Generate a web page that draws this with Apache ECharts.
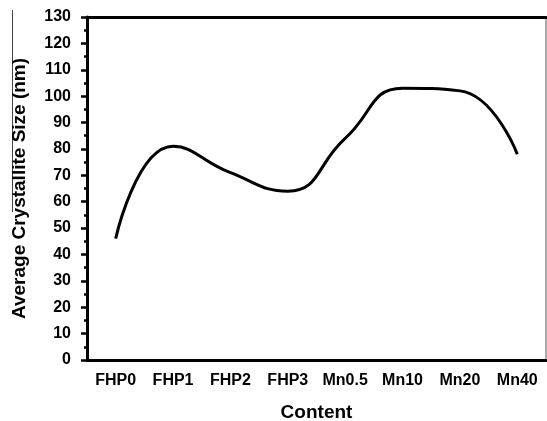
<!DOCTYPE html>
<html>
<head>
<meta charset="utf-8">
<script src="https://cdn.jsdelivr.net/npm/echarts@6/dist/echarts.min.js"></script>
<style>
html,body{margin:0;padding:0;background:#fff;}
#c{width:547px;height:421px;}
</style>
</head>
<body>
<div id="c"></div>
<script>
var categories = ['FHP0','FHP1','FHP2','FHP3','Mn0.5','Mn10','Mn20','Mn40'];
var sizeValues = [46, 81, 71, 64, 84, 103, 102, 78];
var yTicks = {min: 0, max: 130, interval: 10};

var chart = echarts.init(document.getElementById('c'), null, {renderer: 'canvas'});
var font = 'Arial, "Liberation Sans", sans-serif';
chart.setOption({
  animation: false,
  backgroundColor: '#fff',
  grid: {left: 87, right: 1, top: 17, bottom: 61, show: true, borderColor: '#555', borderWidth: 1,
         containLabel: false, outerBoundsMode: 'none'},
  xAxis: [
    {
      type: 'category', data: categories, boundaryGap: true, position: 'bottom',
      name: 'Content', nameLocation: 'middle', nameGap: 43,
      nameTextStyle: {fontFamily: font, fontWeight: 'bold', fontSize: 19, color: '#000'},
      axisLine: {lineStyle: {color: '#000', width: 3}},
      axisTick: {alignWithLabel: true, length: 6, lineStyle: {color: '#000', width: 2.5}},
      axisLabel: {interval: 0, hideOverlap: false, fontFamily: font, fontWeight: 'bold', fontSize: 16, color: '#000', margin: 13},
      splitLine: {show: false}
    },
    {
      type: 'category', data: categories, boundaryGap: true, position: 'bottom',
      axisLine: {show: false},
      axisTick: {interval: 0, length: 3, lineStyle: {color: '#000', width: 2.5}},
      axisLabel: {show: false},
      splitLine: {show: false}
    },
    {
      type: 'category', data: categories, boundaryGap: true, position: 'top',
      axisLine: {lineStyle: {color: '#000', width: 3}},
      axisTick: {show: false},
      axisLabel: {show: false},
      splitLine: {show: false}
    }
  ],
  yAxis: {
    type: 'value', min: yTicks.min, max: yTicks.max, interval: yTicks.interval,
    name: 'Average Crystallite Size (nm)', nameLocation: 'middle', nameGap: 58,
    nameTextStyle: {fontFamily: font, fontWeight: 'bold', fontSize: 19, color: '#000'},
    axisLine: {show: true, lineStyle: {color: '#000', width: 3}},
    axisTick: {show: true, length: 6, lineStyle: {color: '#000', width: 2.5}},
    minorTick: {show: true, splitNumber: 2, length: 3, lineStyle: {color: '#000', width: 2.5}},
    axisLabel: {fontFamily: font, fontWeight: 'bold', fontSize: 16, color: '#000', margin: 16},
    splitLine: {show: false}
  },
  series: [{
    type: 'line', xAxisIndex: 0, data: sizeValues, smooth: 0.5, symbol: 'none',
    lineStyle: {color: '#000', width: 3}
  }],
  graphic: [{
    type: 'line', shape: {x1: 12.5, y1: 10, x2: 12.5, y2: 212},
    style: {stroke: '#444', lineWidth: 1}
  }]
});
</script>
</body>
</html>
